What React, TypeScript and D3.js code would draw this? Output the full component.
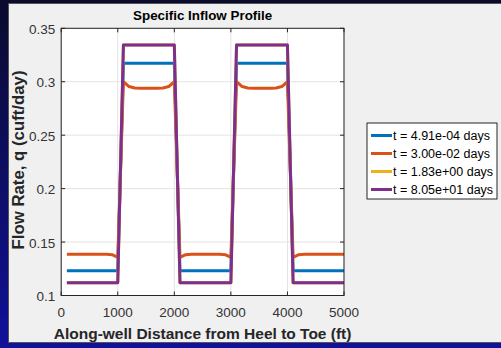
import React from 'react';
import * as d3 from 'd3';

// distance along the well (ft), sampled every 100 ft
const distance = d3.range(100, 5001, 100);

// low zones 100-1000, 2100-3000, 4100-5000, high zones in between
const blueValues = [
	0.1232, 0.1232, 0.1232, 0.1232, 0.1232, 0.1232, 0.1232, 0.1232, 0.1232, 0.1232,
	0.3172, 0.3172, 0.3172, 0.3172, 0.3172, 0.3172, 0.3172, 0.3172, 0.3172, 0.3172,
	0.1232, 0.1232, 0.1232, 0.1232, 0.1232, 0.1232, 0.1232, 0.1232, 0.1232, 0.1232,
	0.3172, 0.3172, 0.3172, 0.3172, 0.3172, 0.3172, 0.3172, 0.3172, 0.3172, 0.3172,
	0.1232, 0.1232, 0.1232, 0.1232, 0.1232, 0.1232, 0.1232, 0.1232, 0.1232, 0.1232,
];
const orangeValues = [
	0.1385, 0.1385, 0.1385, 0.1385, 0.1385, 0.1385, 0.1385, 0.1385, 0.1382, 0.1357,
	0.3, 0.2955, 0.2942, 0.294, 0.294, 0.294, 0.294, 0.2942, 0.2955, 0.3,
	0.1357, 0.1382, 0.1385, 0.1385, 0.1385, 0.1385, 0.1385, 0.1385, 0.1382, 0.1357,
	0.3, 0.2955, 0.2942, 0.294, 0.294, 0.294, 0.294, 0.2942, 0.2955, 0.3,
	0.1357, 0.1382, 0.1385, 0.1385, 0.1385, 0.1385, 0.1385, 0.1385, 0.1385, 0.1385,
];
const yellowValues = [
	0.112, 0.112, 0.112, 0.112, 0.112, 0.112, 0.112, 0.112, 0.112, 0.112,
	0.3343, 0.3343, 0.3343, 0.3343, 0.3343, 0.3343, 0.3343, 0.3343, 0.3343, 0.3343,
	0.112, 0.112, 0.112, 0.112, 0.112, 0.112, 0.112, 0.112, 0.112, 0.112,
	0.3343, 0.3343, 0.3343, 0.3343, 0.3343, 0.3343, 0.3343, 0.3343, 0.3343, 0.3343,
	0.112, 0.112, 0.112, 0.112, 0.112, 0.112, 0.112, 0.112, 0.112, 0.112,
];
const purpleValues = yellowValues.slice();

const seriesLabels = ['t = 4.91e-04 days', 't = 3.00e-02 days', 't = 1.83e+00 days', 't = 8.05e+01 days'];
const seriesColors = ['#0072BD', '#D95319', '#EDB120', '#7E2F8E'];
const seriesValues = [blueValues, orangeValues, yellowValues, purpleValues];

const xTicks = [0, 1000, 2000, 3000, 4000, 5000];
const yTicks = [0.1, 0.15, 0.2, 0.25, 0.3, 0.35];
const yTickLabels = ['0.1', '0.15', '0.2', '0.25', '0.3', '0.35'];

const W = 501;
const H = 348;
const plot = { left: 61.2, right: 344, top: 28.3, bottom: 295.5 };

export default function App() {
	const xScale = d3.scaleLinear().domain([0, 5000]).range([plot.left, plot.right]);
	const yScale = d3.scaleLinear().domain([0.1, 0.35]).range([plot.bottom, plot.top]);
	const line = d3
		.line<number>()
		.x((d, i) => xScale(distance[i]))
		.y(d => yScale(d));

	const font = 'Arial, "Liberation Sans", sans-serif';
	const legend = { x: 367, y: 123, w: 130, h: 76 };

	return (
		<div style={{ position: 'absolute', left: 0, top: 0 }}>
			<svg width={W} height={H} style={{ display: 'block', fontFamily: font }}>
				<defs>
					<linearGradient id="bg" x1="0" y1="0" x2="0" y2="1">
						<stop offset="0" stopColor="#0a0b2c" />
						<stop offset="1" stopColor="#11119a" />
					</linearGradient>
				</defs>
				<rect x={0} y={0} width={W} height={H} fill="url(#bg)" />
				<rect x={8.5} y={3.5} width={W} height={339} fill="#f0f0f0" stroke="#555" strokeWidth={1} />

				{/* axes box */}
				<rect x={plot.left} y={plot.top} width={plot.right - plot.left} height={plot.bottom - plot.top} fill="#fff" />

				{/* grid */}
				{xTicks.map(t => (
					<line key={'gx' + t} x1={xScale(t)} x2={xScale(t)} y1={plot.top} y2={plot.bottom} stroke="#e3e3e3" strokeWidth={1} />
				))}
				{yTicks.map(t => (
					<line key={'gy' + t} x1={plot.left} x2={plot.right} y1={yScale(t)} y2={yScale(t)} stroke="#e3e3e3" strokeWidth={1} />
				))}

				{/* series */}
				{seriesValues.map((vals, i) => (
					<path key={'s' + i} d={line(vals) || ''} fill="none" stroke={seriesColors[i]} strokeWidth={3} strokeLinejoin="round" />
				))}

				{/* box and ticks */}
				<rect x={plot.left} y={plot.top} width={plot.right - plot.left} height={plot.bottom - plot.top} fill="none" stroke="#262626" strokeWidth={1} />
				{xTicks.map(t => (
					<g key={'tx' + t}>
						<line x1={xScale(t)} x2={xScale(t)} y1={plot.bottom} y2={plot.bottom - 4} stroke="#262626" />
						<line x1={xScale(t)} x2={xScale(t)} y1={plot.top} y2={plot.top + 4} stroke="#262626" />
						<text x={xScale(t)} y={plot.bottom + 21} textAnchor="middle" fontSize={13.5} fill="#333">
							{t}
						</text>
					</g>
				))}
				{yTicks.map((t, i) => (
					<g key={'ty' + t}>
						<line x1={plot.left} x2={plot.left + 4} y1={yScale(t)} y2={yScale(t)} stroke="#262626" />
						<line x1={plot.right} x2={plot.right - 4} y1={yScale(t)} y2={yScale(t)} stroke="#262626" />
						<text x={plot.left - 6} y={yScale(t) + 5.5} textAnchor="end" fontSize={13.5} fill="#333">
							{yTickLabels[i]}
						</text>
					</g>
				))}

				{/* labels */}
				<text x={(plot.left + plot.right) / 2} y={19.5} textAnchor="middle" fontSize={13.4} fontWeight="bold" fill="#000">
					Specific Inflow Profile
				</text>
				<text x={(plot.left + plot.right) / 2} y={338.5} textAnchor="middle" fontSize={15.5} fontWeight="bold" fill="#262626">
					Along-well Distance from Heel to Toe (ft)
				</text>
				<text
					transform="translate(23.5,160) rotate(-90)"
					textAnchor="middle"
					fontSize={16.8}
					fontWeight="bold"
					fill="#262626"
				>
					Flow Rate, q (cuft/day)
				</text>

				{/* legend */}
				<rect x={legend.x} y={legend.y} width={legend.w} height={legend.h} fill="#fff" stroke="#262626" strokeWidth={1} />
				{seriesLabels.map((lab, i) => {
					const y = legend.y + 12.5 + i * 18;
					return (
						<g key={'l' + i}>
							<line x1={legend.x + 4} x2={legend.x + 25} y1={y} y2={y} stroke={seriesColors[i]} strokeWidth={3} />
							<text x={legend.x + 26} y={y + 4.5} fontSize={12.5} fill="#000">
								{lab}
							</text>
						</g>
					);
				})}
			</svg>
		</div>
	);
}
